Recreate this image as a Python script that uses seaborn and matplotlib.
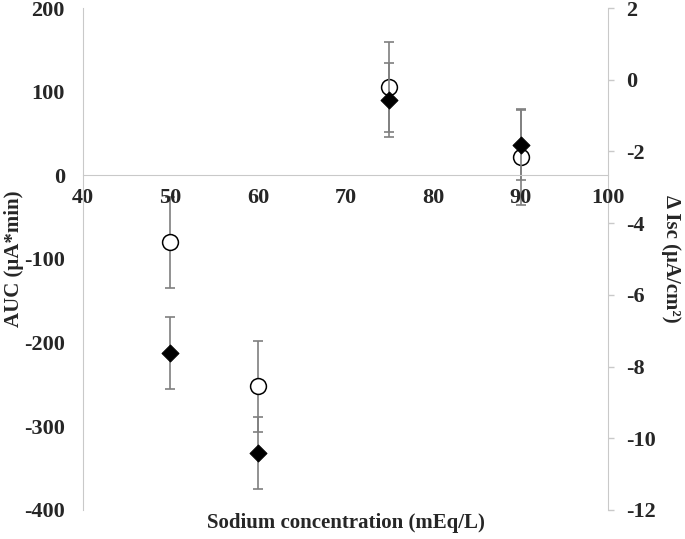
import matplotlib
matplotlib.use("Agg")
import matplotlib.pyplot as plt
import seaborn as sns
import pandas as pd

# sodium concentration (mEq/L)
sodium = [50, 60, 75, 90]
# AUC (uA*min), filled diamonds, left axis
auc = [-212, -332, 90, 36]
auc_err = [43, 43, 44, 42]
# delta Isc (uA/cm2), open circles, right axis
isc = [-4.53, -8.55, -0.21, -2.15]
isc_err = [1.27, 1.27, 1.25, 1.33]

sns.set_style("white")
plt.rcParams['font.family'] = ['Liberation Serif', 'DejaVu Serif']
plt.rcParams['font.weight'] = 'bold'
plt.rcParams['axes.unicode_minus'] = False

df = pd.DataFrame({'sodium': sodium, 'auc': auc, 'isc': isc})
grey_spine = '#c9c9c9'
bar_col = '#7f7f7f'
tick_fs = 16
label_fs = 15

fig = plt.figure(figsize=(6.85, 5.39), dpi=100)
ax = fig.add_axes([0.121, 0.054, 0.767, 0.931])
ax2 = ax.twinx()

# circles on right axis
ax2.errorbar(sodium, isc, yerr=isc_err, fmt='none', ecolor=bar_col,
             elinewidth=1.2, capsize=3.5, capthick=1.2, zorder=2)
sns.scatterplot(data=df, x='sodium', y='isc', ax=ax2, marker='o', s=130,
                facecolor='white', edgecolor='black', linewidth=1.1, zorder=3)

# diamonds on left axis
ax.errorbar(sodium, auc, yerr=auc_err, fmt='none', ecolor=bar_col,
            elinewidth=1.2, capsize=3.5, capthick=1.2, zorder=2)
sns.scatterplot(data=df, x='sodium', y='auc', ax=ax, marker='D', s=75,
                color='black', edgecolor='black', zorder=4)

ax.set_zorder(ax2.get_zorder() + 1)
ax.patch.set_visible(False)

ax.set_xlim(40, 100)
ax.set_ylim(-400, 200)
ax2.set_ylim(-12, 2)
ax.set_xticks(range(40, 101, 10))
ax.set_yticks(range(-400, 201, 100))
ax2.set_yticks(range(-12, 3, 2))

for a in (ax, ax2):
    a.spines['top'].set_visible(False)
    a.spines['bottom'].set_visible(False)
    a.spines['left'].set_color(grey_spine)
    a.spines['right'].set_color(grey_spine)
    a.grid(False)
ax.spines['right'].set_visible(False)
ax2.spines['left'].set_visible(False)
ax.spines['bottom'].set_visible(True)
ax.spines['bottom'].set_position(('data', 0))
ax.spines['bottom'].set_color(grey_spine)

ax.tick_params(axis='x', length=0, pad=9, labelsize=tick_fs)
ax.tick_params(axis='y', length=0, pad=13, labelsize=tick_fs)
ax2.tick_params(axis='y', which='both', right=True, length=4, width=1,
                color=grey_spine, direction='out', pad=9, labelsize=tick_fs)

ax.set_xlabel('Sodium concentration (mEq/L)', fontsize=label_fs, fontweight='bold')
ax.xaxis.set_label_coords(0.5, -0.006)
ax.set_ylabel('AUC (μA*min)', fontsize=label_fs, fontweight='bold')
ax.yaxis.set_label_coords(-0.112, 0.5)
ax2.set_ylabel('Δ Isc (μA/cm²)', fontsize=label_fs, fontweight='bold',
               rotation=-90, va='bottom')
ax2.yaxis.set_label_coords(1.101, 0.5)

fig.savefig('out.png', dpi=100)
